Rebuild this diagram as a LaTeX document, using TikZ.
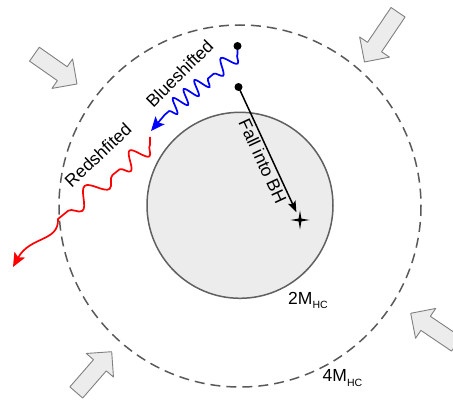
\documentclass[tikz,border=0pt]{standalone}
\usepackage{fontspec}
\setmainfont{Liberation Sans}
\usetikzlibrary{arrows.meta,decorations.pathmorphing}
\newcommand{\hcsub}{\raisebox{-5pt}{\fontsize{10.5}{12}\selectfont HC}}

\begin{document}
\begin{tikzpicture}[x=1pt, y=-1pt,
    lbl/.style={font=\fontsize{17.5}{21}\selectfont, inner sep=2pt},
    inflow/.style={fill=gray!15, draw=gray, line width=0.9pt, line join=round},
    photon/.style={line width=1.7pt, -{Stealth[length=14pt, width=12pt, inset=3pt]}}]

    % frame of the picture, in pixel units (y down)
    \useasboundingbox (0,0) rectangle (453,401);

    % centres of the two spheres
    \coordinate (O) at (240,206);
    \coordinate (Oin) at (240,205.3);

    % 4M_HC sphere (dashed) and the 2M_HC black hole
    \draw[gray!70!black, line width=1.5pt, dash pattern=on 10pt off 6pt] (O) circle (181);
    \draw[fill=gray!15, draw=gray!75!black, line width=1.5pt] (Oin) circle (93);

    % matter pushed in from outside
    \foreach \x/\y/\a/\l in {77/84/-35/52, 364.5/62/-124/60, 410.7/313.3/146/55, 111.7/351.7/49/54}
        \draw[inflow, shift={(\x,\y)}, rotate=\a] (0,0) -- (-18,18) -- (-18,8.5) -- (-\l,8.5)
            -- (-\l,-8.5) -- (-18,-8.5) -- (-18,-18) -- cycle;

    % start points and the singularity
    \coordinate (bdot) at (237.5,46);
    \coordinate (fdot) at (238.5,87);
    \coordinate (bh) at (300,220);

    % blueshifted photon: wavelength gets shorter
    \coordinate (b1) at (237.5,54);
    \coordinate (bm) at (208,78.5);
    \coordinate (b2) at (165,114.5);
    \coordinate (btip) at (151,131);
    \draw[photon, blue] (bdot) -- (b1)
        decorate[decoration={snake, segment length=19, amplitude=7.5}] {-- (bm)}
        decorate[decoration={snake, segment length=14, amplitude=7.5}] {-- (b2)} -- (btip);

    % redshifted photon: wavelength gets longer
    \coordinate (rstart) at (150,137);
    \coordinate (r1) at (150,145);
    \coordinate (rm) at (112.5,175);
    \coordinate (r2) at (58,219);
    \coordinate (rtip) at (13,267);
    \draw[photon, red] (rstart) -- (r1)
        decorate[decoration={snake, segment length=24, amplitude=8.5}] {-- (rm)}
        decorate[decoration={snake, segment length=35, amplitude=9}] {-- (r2)}
        .. controls (59,242) and (30,236) .. (rtip);

    % infalling particle
    \fill (bdot) circle (4);
    \fill (fdot) circle (4);
    \draw[line width=1.5pt, -{Stealth[length=11pt, width=8pt, inset=2pt]}, shorten >=8.5pt] (fdot) -- (bh)
        node[lbl, pos=0.53, sloped, below] (lblfall) {Fall into BH};
    \fill[shift={(bh)}] (-9.5,0) -- (-1.4,-1.4) -- (0,-9.5) -- (1.4,-1.4) -- (9.5,0)
        -- (1.4,1.4) -- (0,9.5) -- (-1.4,1.4) -- cycle;

    % labels
    \node[lbl, rotate=45] (lblblue) at (179.5,73.5) {Blueshifted};
    \node[lbl, rotate=43] (lblred) at (98,155) {Redshfited};
    \node[lbl, anchor=base west, inner sep=0pt] (lbltwo) at (288,304) {2M\hcsub};
    \node[lbl, anchor=base west, inner sep=0pt] (lblfour) at (322.5,381.5) {4M\hcsub};
\end{tikzpicture}
\end{document}
